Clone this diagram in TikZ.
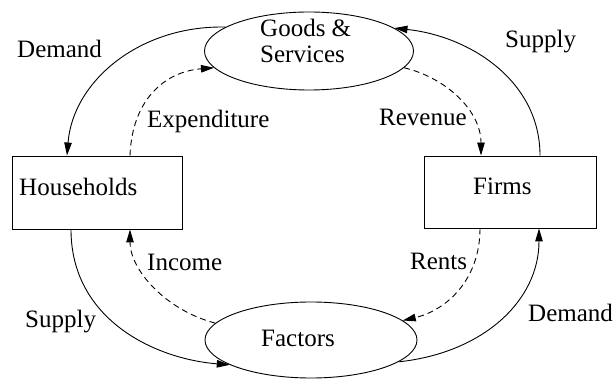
\documentclass[tikz,border=0pt]{standalone}
\usepackage{fontspec}
\setmainfont{Liberation Serif}
\usetikzlibrary{shapes.geometric,arrows.meta,calc}
\tikzset{
  box/.style={draw,rectangle,line width=0.9pt,minimum width=171pt,minimum height=72pt,inner sep=0pt},
  oval/.style={draw,ellipse,line width=0.9pt,inner sep=0pt},
  txt/.style={anchor=base west,inner sep=0pt,font=\fontsize{25}{26}\selectfont},
  flow/.style={line width=0.9pt,-{Triangle[length=13pt,width=7.5pt]}},
  money/.style={flow,dash pattern=on 6pt off 4pt},
}
\begin{document}
\begin{tikzpicture}[x=1pt,y=-1pt]
\useasboundingbox (0,0) rectangle (613,379);
% nodes
\node[oval,minimum width=209pt,minimum height=78pt] (goods) at (309,51) {};
\node[oval,minimum width=212pt,minimum height=76pt] (factors) at (311,340) {};
\node[box,minimum width=170pt,minimum height=73pt] (hh) at (97,192.5) {};
\node[box,minimum width=172pt,minimum height=72pt] (firms) at (510,192) {};
% node texts
\node[txt,align=left] (goodstxt) at (260,37) {Goods \&};
\node[txt] (servtxt) at (260,63) {Services};
\node[txt] (factxt) at (261,346) {Factors};
\node[txt] (hhtxt) at (19,196) {Households};
\node[txt] (firmstxt) at (473,195) {Firms};
% connectors
\draw[flow] (goods.164) .. controls +(-85,-2) and +(6,-75) .. ($(hh.north)+(-30,0)$);
\draw[money] ($(hh.north)+(33,0)$) .. controls +(2,-55) and +(-50,4) .. (goods.190);
\draw[flow] ($(firms.north)+(30,0)$) .. controls +(0,-75) and +(75,8) .. (goods.15);
\draw[money] (goods.-10) .. controls +(42,10) and +(0,-45) .. ($(firms.north)+(-29,0)$);
\draw[flow] ($(hh.south)+(-26,0)$) .. controls +(0,90) and +(-75,-6) .. (factors.197);
\draw[money] (factors.170) .. controls +(-50,-13) and +(0,40) .. ($(hh.south)+(33,0)$);
\draw[money] ($(firms.south)+(-30,0)$) .. controls +(0,52) and +(43,-10) .. (factors.12);
\draw[flow] (factors.-14) .. controls +(85,-9) and +(0,72) .. ($(firms.south)+(29,0)$);
% labels
\node[txt] (l1) at (17,58) {Demand};
\node[txt] (l2) at (147,128) {Expenditure};
\node[txt] (l3) at (505,48) {Supply};
\node[txt] (l4) at (379,126) {Revenue};
\node[txt] (l5) at (147,271) {Income};
\node[txt] (l6) at (25,327) {Supply};
\node[txt] (l7) at (410,270) {Rents};
\node[txt] (l8) at (528,322) {Demand};
\end{tikzpicture}
\end{document}
